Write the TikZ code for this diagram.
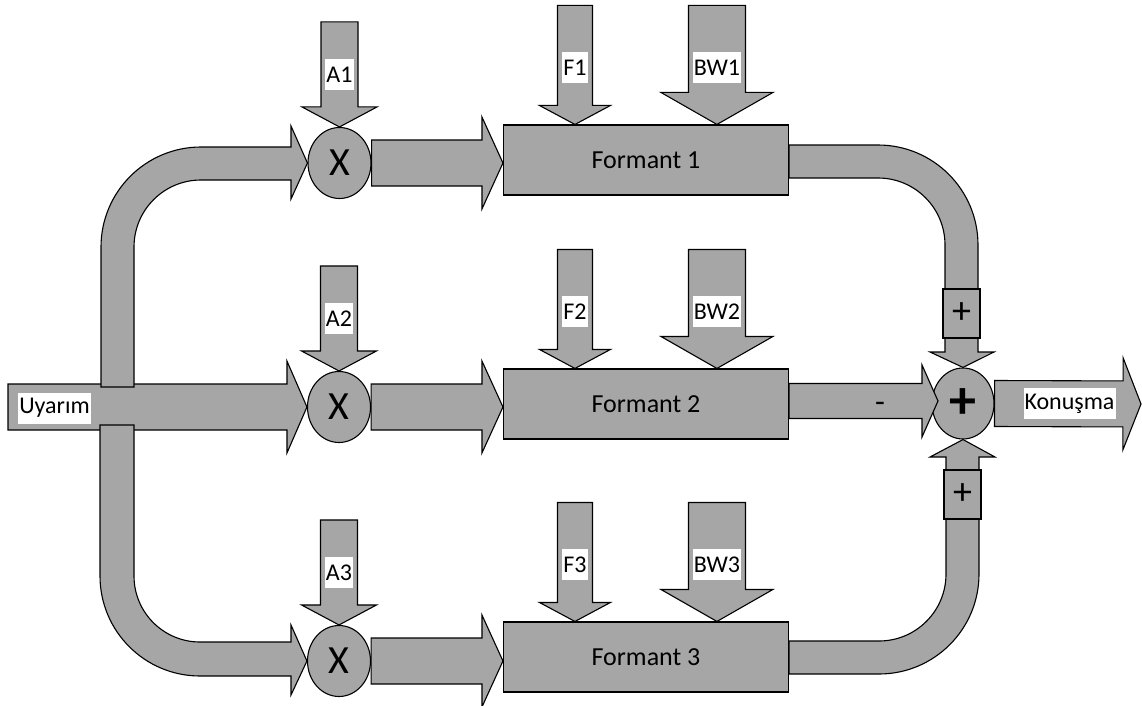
\documentclass[tikz,border=0pt]{standalone}
\usepackage{fontspec}
\setmainfont{Carlito}
\usetikzlibrary{calc,shapes.geometric}
\definecolor{blockgray}{HTML}{A6A6A6}
% straight block arrow: from, tip, half body width, half head width, head length
\newcommand{\blockarrow}[5]{%
  \coordinate (ba-h) at ($(#2)!#5!(#1)$);
  \draw[blk] ($(#1)!#3!90:(#2)$) -- ($(ba-h)!#3!90:(#2)$) -- ($(ba-h)!#4!90:(#2)$) -- (#2)
    -- ($(ba-h)!#4!-90:(#2)$) -- ($(ba-h)!#3!-90:(#2)$) -- ($(#1)!#3!-90:(#2)$) -- cycle;
}
\newcommand{\lblfont}{\fontsize{24}{28}\selectfont}
\begin{document}
\begin{tikzpicture}[x=1pt,y=-1pt,
  blk/.style={draw=black,fill=blockgray,line width=1.1pt,line join=miter},
  mult/.style={ellipse,draw=black,fill=blockgray,line width=1.1pt,minimum width=63pt,
    minimum height=71pt,inner sep=0pt,font=\fontsize{40}{40}\selectfont},
  formant/.style={rectangle,draw=black,fill=blockgray,line width=1.1pt,minimum width=285pt,
    minimum height=70pt,inner sep=0pt,font=\fontsize{26}{30}\selectfont},
  pbox/.style={rectangle,draw=black,fill=blockgray,line width=1.1pt,minimum width=37pt,
    minimum height=49pt,inner sep=0pt,font=\fontsize{38}{38}\selectfont},
  lbl/.style={fill=white,inner xsep=1pt,inner ysep=0pt,minimum height=31pt,font=\lblfont}]
\useasboundingbox (0,0) rectangle (1142,706);

% multipliers, formant filters and the summing point
\node[mult] (m1) at (339.5,163) {X};
\node[mult] (m2) at (339,407) {X};
\node[mult] (m3) at (339,661) {X};
\node[formant] (f1) at (646,160) {Formant 1};
\node[formant] (f2) at (646,404) {Formant 2};
\node[formant] (f3) at (646,657) {Formant 3};
\node[mult,minimum width=62pt,font=\fontsize{54}{54}\selectfont\bfseries] (sum) at (963,403.5) {+};

% excitation input and its two branches
\coordinate (src) at (8,407);
\blockarrow{src}{m2.west}{23pt}{46pt}{20pt}
\draw[blk] (101,387) -- (101,247) arc[start angle=180,end angle=270,radius=100]
  -- (291,147) -- (291,126) -- (m1.west) -- (291,199) -- (291,180) -- (201,180)
  arc[start angle=270,end angle=180,radius=67] -- (134,387) -- cycle;
\draw[blk] (134,425) -- (134,576) arc[start angle=180,end angle=90,radius=66]
  -- (291,642) -- (291,625) -- (m3.west) -- (291,695) -- (291,676) -- (200,676)
  arc[start angle=90,end angle=180,radius=100] -- (100,425) -- cycle;
\node[lbl] (in) at (54.5,408) {Uyarım};

% control inputs of each channel
\foreach \i in {1,2,3} {
  \coordinate (mT\i) at (m\i.east -| f\i.west);
  \blockarrow{m\i.east}{mT\i}{23pt}{46pt}{21pt}
  \coordinate (aS\i) at ($(m\i.north)+(0,-105)$);
  \blockarrow{aS\i}{m\i.north}{18.5pt}{37.5pt}{20pt}
  \coordinate (fT\i) at ($(f\i.north west)+(72,0)$);
  \coordinate (fS\i) at ($(fT\i)+(0,-119)$);
  \blockarrow{fS\i}{fT\i}{17.5pt}{35.5pt}{19pt}
  \coordinate (bT\i) at ($(f\i.north west)+(214,0)$);
  \coordinate (bS\i) at ($(bT\i)+(0,-119)$);
  \blockarrow{bS\i}{bT\i}{28.5pt}{56pt}{32pt}
  \node[lbl] (aL\i) at ($(m\i.north)+(0,-52)$) {A\i};
  \node[lbl] (fL\i) at ($(fT\i)+(0,-57)$) {F\i};
  \node[lbl] (bL\i) at ($(bT\i)+(0,-57)$) {BW\i};
}

% formant outputs into the summing point
\draw[blk] (f1.east |- 0,145) -- (878,145) arc[start angle=270,end angle=360,radius=100]
  -- (978,352) -- (994,352) -- (sum.north) -- (930,352) -- (945,352) -- (945,245)
  arc[start angle=0,end angle=-90,radius=67] -- (f1.east |- 0,178) -- cycle;
\draw[blk] (f3.east |- 0,641) -- (879,641) arc[start angle=90,end angle=0,radius=67]
  -- (946,457) -- (930,457) -- (sum.south) -- (995,457) -- (979,457) -- (979,574)
  arc[start angle=0,end angle=90,radius=100] -- (f3.east |- 0,674) -- cycle;
\node[pbox] (p1) at (961.5,313.5) {+};
\node[pbox] (p3) at (962.5,494.5) {+};
\coordinate (o2s) at (f2.east |- 0,401);
\coordinate (o2t) at (938,401);
\blockarrow{o2s}{o2t}{17.5pt}{36pt}{16pt}
\node[font=\fontsize{32}{32}\selectfont] (minus) at (880,407) {-};

% speech output
\coordinate (out) at (1141,404);
\blockarrow{sum.east}{out}{23pt}{46pt}{18pt}
\node[lbl] (sp) at (1069.5,403.5) {Konuşma};
\end{tikzpicture}
\end{document}
